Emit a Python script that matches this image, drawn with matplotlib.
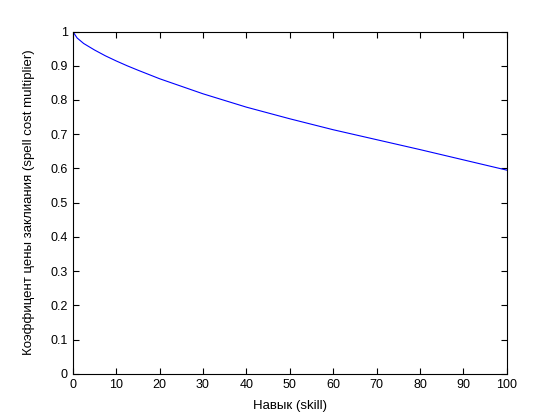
import matplotlib
matplotlib.use("Agg")
import matplotlib.pyplot as plt

plt.rcParams["font.family"] = ["Liberation Sans", "DejaVu Sans"]

# values
skill = [0, 1, 2.5, 5, 7.5, 10, 12.5, 15, 20, 30, 40, 50, 60, 70, 80, 90, 100]
multiplier = [1.0, 0.981, 0.965, 0.946, 0.929, 0.914, 0.900, 0.887, 0.862, 0.818,
              0.779, 0.745, 0.713, 0.684, 0.655, 0.625, 0.595]

x_ticks = list(range(0, 101, 10))
y_ticks = [i / 10 for i in range(11)]

fig = plt.figure(figsize=(5.6, 4.2), dpi=100)
ax = fig.add_axes([0.13, 0.11, 0.775, 0.815])

ax.plot(skill, multiplier, color="#0000ff", linewidth=0.8)

ax.set_xlim(0, 100)
ax.set_ylim(0, 1)
ax.set_xticks(x_ticks)
ax.set_yticks(y_ticks)
ax.set_yticklabels([f"{v:g}" for v in y_ticks])
ax.tick_params(direction="in", length=4, width=0.8, labelsize=9,
               top=True, right=True, pad=3.5)
for side in ax.spines.values():
    side.set_linewidth(0.8)

ax.set_xlabel("Навык (skill)", fontsize=9.5, labelpad=7)
ax.set_ylabel("Коэффицент цены заклиания (spell cost multiplier)", fontsize=9.5, labelpad=11)

fig.savefig("out.png", dpi=100)
